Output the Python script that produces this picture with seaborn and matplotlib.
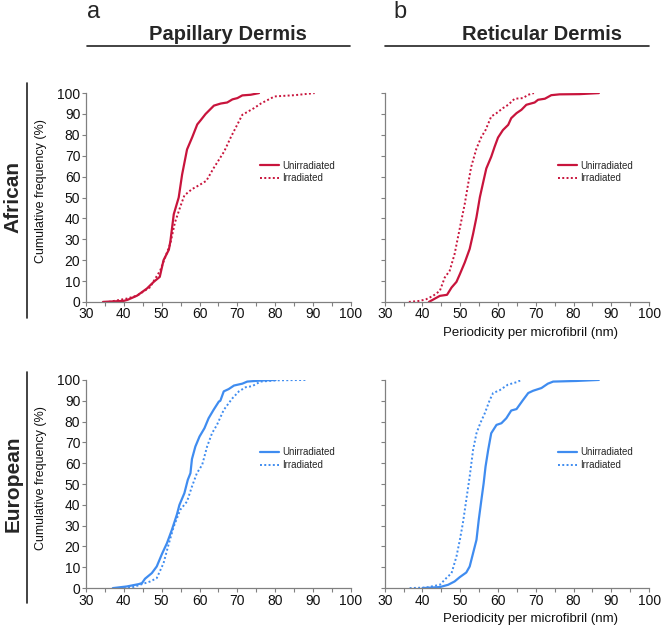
import pandas as pd
import seaborn as sns
from matplotlib import pyplot as plt
from matplotlib.lines import Line2D
from matplotlib.ticker import MultipleLocator

# cumulative frequency curves (periodicity nm, cumulative %)
af_pap_unirr_x = [34.5, 40, 41, 43.5, 46.1, 47.9, 49.5, 50.5, 51.9, 52.3, 53.2, 54.5, 55.4,
                  56.7, 58.1, 59.4, 60.3, 61.6, 63.8, 65.6, 67.3, 68.7, 70, 71.3, 73.5, 75.7]
af_pap_unirr_y = [0, 0.5, 1, 3, 6.4, 9.6, 12, 20, 25, 29, 42, 50, 61,
                  73, 79, 85, 87, 90, 94, 95, 95.5, 97, 97.6, 98.9, 99.2, 100]
af_pap_irr_x = [36, 40.8, 43.5, 46.9, 49.6, 52.3, 53.5, 55, 56, 58, 60, 61.8, 63.7, 66.5,
                68.3, 71.3, 74.4, 76.2, 79.8, 85.1, 90.4]
af_pap_irr_y = [0, 1.6, 3, 7, 15, 28, 38, 46, 51, 54, 56, 58, 64, 72,
                79, 89.6, 92.8, 95, 98.4, 99, 100]

af_ret_unirr_x = [41.7, 43.7, 44.6, 46.5, 47.7, 49.0, 49.9, 51.2, 52.5, 53.4, 54.3, 55.2, 56.2,
                  56.9, 58.2, 59.1, 60.0, 61.3, 62.7, 63.5, 64.9, 66.2, 67.5, 69.7, 70.6, 72.4,
                  74.1, 76.3, 81.6, 86.7]
af_ret_unirr_y = [0, 2, 2.9, 3.4, 6.9, 9.6, 13.3, 18.9, 25.4, 32.6, 40.6, 50.2, 58.3,
                  63.9, 69.5, 74.3, 78.7, 82.3, 84.8, 88, 90.4, 92, 94.4, 95.5, 96.8, 97.3,
                  99, 99.4, 99.5, 100]
af_ret_irr_x = [36.4, 39.3, 41.0, 42.8, 44.6, 45.9, 47.2, 48.5, 49.4, 50.3, 51.2, 52.1, 52.9,
                54.3, 55.6, 56.7, 58.2, 59.6, 61.3, 62.7, 64.4, 66.6, 68, 69.5]
af_ret_irr_y = [0, 0.5, 1.3, 2.9, 5.3, 11.7, 14.9, 22.9, 31, 39, 47, 56.6, 64.7,
                73.5, 79, 82.3, 88.8, 90.4, 92.8, 94.4, 97.3, 97.6, 99.2, 100]

eu_pap_unirr_x = [37.1, 40.8, 43.9, 44.8, 45.6, 47.4, 48.7, 50.1, 51.4, 52.7, 54.0, 54.7, 56.0,
                  56.9, 57.6, 58.0, 58.9, 60.0, 61.3, 62.4, 63.7, 65.1, 65.5, 66.4, 67.7, 69.1,
                  71.3, 72.6, 76.1, 80.1]
eu_pap_unirr_y = [0, 0.8, 1.9, 2.4, 4.5, 7.2, 10.4, 16.5, 21.6, 28, 35.2, 40, 45.6,
                  52, 55.2, 62, 68, 72.8, 76.8, 81.6, 85.6, 89.6, 90, 94.5, 95.6, 97.3,
                  98.2, 99.2, 99.7, 100]
eu_pap_irr_x = [40, 42.1, 44.8, 47.0, 48.7, 50.5, 51.8, 53.2, 54.9, 56.7, 58.0, 59.3, 60.7,
                62.0, 63.3, 64.6, 66.4, 68.6, 70.4, 72.2, 73.9, 76.1, 80.5, 88.5]
eu_pap_irr_y = [0, 0.3, 1.9, 3.2, 4.8, 12, 20.8, 29.6, 37.6, 41.6, 48.8, 55.2, 59.2,
                68, 74.4, 78.4, 85.6, 91, 94.5, 96.5, 97, 99.2, 99.8, 100]

eu_ret_unirr_x = [40, 44.6, 46.8, 48.5, 49.9, 51.6, 52.5, 53.4, 54.3, 54.9, 55.6, 56.2, 56.7,
                  57.4, 58.2, 59.6, 60.9, 62.2, 63.5, 64.9, 66.6, 68, 69.3, 71.5, 73.2, 74.6,
                  80.8, 86.7]
eu_ret_unirr_y = [0, 0.5, 1.6, 3.2, 5.3, 7.5, 10.4, 16.8, 23.2, 32.8, 42.4, 50.4, 58.4,
                  66.4, 74.4, 78.4, 79.2, 81.6, 85.3, 86, 90.3, 93.7, 94.8, 96.1, 98.2, 99.2,
                  99.5, 100]
eu_ret_irr_x = [36.6, 41.0, 44.6, 46.3, 47.7, 49.0, 49.9, 50.7, 51.6, 52.5, 53.4, 54.3, 55.3,
                56.5, 57.8, 58.7, 60.4, 62.6, 64.9, 66.2]
eu_ret_irr_y = [0, 0.3, 1.6, 4.8, 7.2, 15.2, 23.2, 31.2, 42.4, 53.6, 66.4, 74.4, 79.2,
                84, 90.3, 93.7, 95, 97.7, 98.9, 100]

RED = "#c8143c"
BLUE = "#3f8cf0"
GREY = "#808080"

sns.set_theme(style="ticks")
plt.rcParams['font.family'] = ['Liberation Sans', 'DejaVu Sans']

fig = plt.figure(figsize=(6.61, 6.29), dpi=100)

panels = [
    ([0.130, 0.520, 0.401, 0.332], af_pap_unirr_x, af_pap_unirr_y, af_pap_irr_x, af_pap_irr_y, RED, True, False),
    ([0.582, 0.520, 0.400, 0.332], af_ret_unirr_x, af_ret_unirr_y, af_ret_irr_x, af_ret_irr_y, RED, False, True),
    ([0.130, 0.065, 0.401, 0.331], eu_pap_unirr_x, eu_pap_unirr_y, eu_pap_irr_x, eu_pap_irr_y, BLUE, True, False),
    ([0.582, 0.065, 0.400, 0.331], eu_ret_unirr_x, eu_ret_unirr_y, eu_ret_irr_x, eu_ret_irr_y, BLUE, False, True),
]

for rect, ux, uy, ix, iy, col, left, right in panels:
    ax = fig.add_axes(rect)
    sns.lineplot(x=ux, y=uy, sort=False, estimator=None, color=col, lw=1.6, ax=ax)
    sns.lineplot(x=ix, y=iy, sort=False, estimator=None, color=col, lw=1.4,
                 linestyle=(0, (1, 1.2)), ax=ax)
    ax.set_xlim(30, 100)
    ax.set_ylim(0, 100)
    ax.xaxis.set_major_locator(MultipleLocator(10))
    ax.xaxis.set_minor_locator(MultipleLocator(5))
    ax.yaxis.set_major_locator(MultipleLocator(10))
    for s in ["top", "right"]:
        ax.spines[s].set_visible(False)
    for s in ["left", "bottom"]:
        ax.spines[s].set_color(GREY)
        ax.spines[s].set_linewidth(0.9)
    ax.tick_params(which="both", direction="out", length=3, width=0.8, color=GREY,
                   labelsize=10, labelcolor="#111111", pad=1)
    if left:
        ax.set_ylabel("Cumulative frequency (%)", fontsize=9, color="#111111")
        ax.yaxis.set_label_coords(-0.145, 0.53)
    else:
        ax.set_yticklabels([])
        ax.set_ylabel("")
    if right:
        ax.set_xlabel("Periodicity per microfibril (nm)", fontsize=9.5, color="#111111")
        ax.xaxis.set_label_coords(0.55, -0.12)
    else:
        ax.set_xlabel("")
    handles = [Line2D([], [], color=col, lw=1.6),
               Line2D([], [], color=col, lw=1.4, linestyle=(0, (1, 1.2)))]
    ax.legend(handles, ["Unirradiated", "Irradiated"], frameon=False, fontsize=7,
              loc="center left", bbox_to_anchor=(0.655, 0.622), borderaxespad=0,
              borderpad=0, handlelength=2.0, handletextpad=0.3, labelspacing=0.3)

# column headers
fig.text(0.132, 0.971, "a", fontsize=17, va="baseline", ha="left")
fig.text(0.595, 0.971, "b", fontsize=17, va="baseline", ha="left")
fig.text(0.345, 0.936, "Papillary Dermis", fontsize=14.5, fontweight="bold", va="baseline", ha="center")
fig.text(0.820, 0.936, "Reticular Dermis", fontsize=14.5, fontweight="bold", va="baseline", ha="center")
fig.add_artist(Line2D([0.132, 0.530], [0.927, 0.927], color="#222222", lw=1.2))
fig.add_artist(Line2D([0.582, 0.982], [0.927, 0.927], color="#222222", lw=1.2))

# row labels
fig.text(0.020, 0.687, "African", fontsize=15, fontweight="bold", rotation=90, va="center", ha="center")
fig.text(0.020, 0.231, "European", fontsize=15, fontweight="bold", rotation=90, va="center", ha="center")
fig.add_artist(Line2D([0.041, 0.041], [0.868, 0.494], color="#222222", lw=1.2))
fig.add_artist(Line2D([0.041, 0.041], [0.409, 0.041], color="#222222", lw=1.2))

fig.savefig("out.png", dpi=100)
